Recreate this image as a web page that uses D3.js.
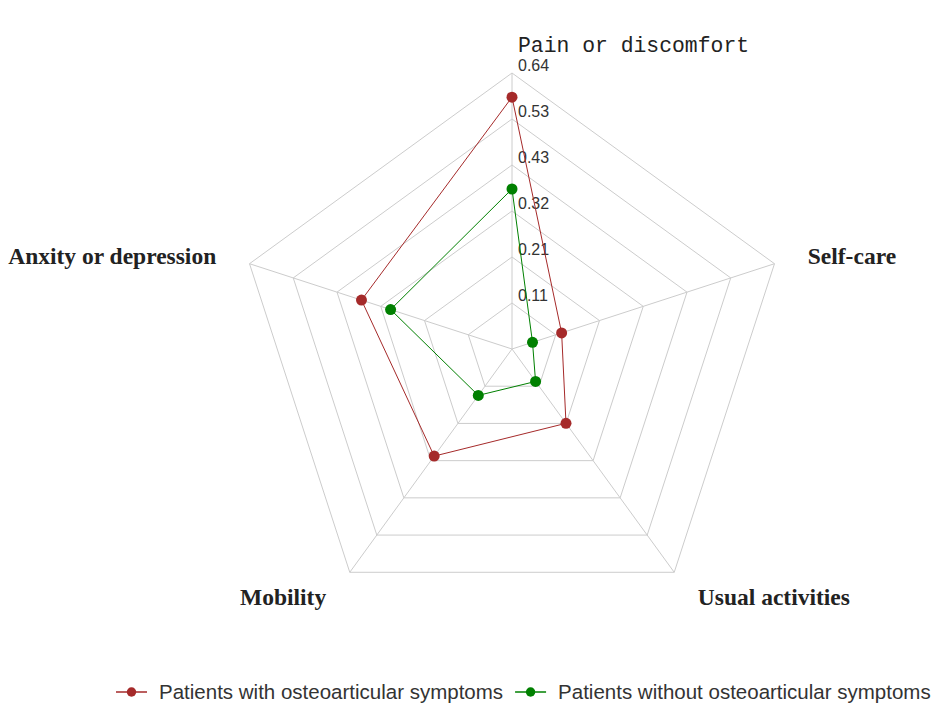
<!DOCTYPE html>
<html>
<head>
<meta charset="utf-8">
<script src="https://cdn.jsdelivr.net/npm/d3@7"></script>
<style>
  body { margin: 0; background: #fff; }
  svg { display: block; }
</style>
</head>
<body>
<svg id="chart" width="950" height="706"></svg>
<script>
// ---------------- data ----------------
var axes = ["Pain or discomfort", "Self-care", "Usual activities", "Mobility", "Anxity or depression"];
var tickLabels = ["0.11", "0.21", "0.32", "0.43", "0.53", "0.64"];
var withSymptoms = [0.584, 0.121, 0.213, 0.307, 0.367];
var withoutSymptoms = [0.371, 0.050, 0.093, 0.133, 0.296];
var seriesNames = ["Patients with osteoarticular symptoms", "Patients without osteoarticular symptoms"];
var seriesColors = ["#a52a2a", "#008000"];
var maxValue = 0.64;

// ---------------- layout ----------------
var svg = d3.select("#chart");
var cx = 512, cy = 349, radius = 276;
var rings = tickLabels.length;

var r = d3.scaleLinear().domain([0, maxValue]).range([0, radius]);
var angle = d3.scaleLinear().domain([0, axes.length]).range([0, 2 * Math.PI]);

function pt(i, v) {
    var a = angle(i);
    return [cx + r(v) * Math.sin(a), cy - r(v) * Math.cos(a)];
}

var g = svg.append("g");

// grid rings
for (var k = 1; k <= rings; k++) {
    var v = maxValue * k / rings;
    var ring = axes.map(function(d, i) { return pt(i, v); });
    g.append("polygon")
        .attr("points", ring.map(function(p) { return p.join(","); }).join(" "))
        .style("fill", "none")
        .style("stroke", "#cccccc")
        .style("stroke-width", 1);
}

// spokes
g.selectAll(".spoke")
    .data(axes)
    .enter().append("line")
    .attr("x1", cx).attr("y1", cy)
    .attr("x2", function(d, i) { return pt(i, maxValue)[0]; })
    .attr("y2", function(d, i) { return pt(i, maxValue)[1]; })
    .style("stroke", "#cccccc")
    .style("stroke-width", 1);

// tick labels along the top axis
g.selectAll(".tick")
    .data(tickLabels)
    .enter().append("text")
    .attr("x", cx + 6)
    .attr("y", function(d, i) { return pt(0, maxValue * (i + 1) / rings)[1] - 2; })
    .style("font-family", "'Liberation Sans', Arial, sans-serif")
    .style("font-size", "16px")
    .style("fill", "#333")
    .text(function(d) { return d; });

// axis names
var labelR = radius + 35;
axes.forEach(function(name, i) {
    var a = angle(i);
    var x = cx + labelR * Math.sin(a);
    var y = cy - labelR * Math.cos(a);
    var t = g.append("text").text(name);
    if (i === 0) {
        t.attr("x", cx + 6).attr("y", 52)
            .style("font-family", "'Liberation Mono', 'Courier New', monospace")
            .style("font-size", "21.4px")
            .style("fill", "#222");
    } else {
        var side = Math.sin(a) > 0 ? 1 : -1;
        var bottom = Math.cos(a) < -0.5;
        t.attr("x", x + (bottom ? 3 * side : 0))
            .attr("y", y + (bottom ? 4.5 : 11))
            .attr("text-anchor", side > 0 ? "start" : "end")
            .style("font-family", "'Liberation Serif', 'Times New Roman', serif")
            .style("font-weight", "bold")
            .style("font-size", "23.5px")
            .style("fill", "#222");
    }
});

// series
var line = d3.line().curve(d3.curveLinearClosed);
[withSymptoms, withoutSymptoms].forEach(function(values, s) {
    var pts = values.map(function(v, i) { return pt(i, v); });
    g.append("path")
        .attr("d", line(pts))
        .style("fill", "none")
        .style("stroke", seriesColors[s])
        .style("stroke-width", 1);
    g.selectAll(".dot" + s)
        .data(pts)
        .enter().append("circle")
        .attr("cx", function(d) { return d[0]; })
        .attr("cy", function(d) { return d[1]; })
        .attr("r", 5.5)
        .style("fill", seriesColors[s]);
});

// legend
var lx = 116, ly = 692;
seriesNames.forEach(function(name, s) {
    var item = svg.append("g").attr("transform", "translate(" + lx + "," + ly + ")");
    item.append("line").attr("x1", 0).attr("x2", 31).attr("y1", 0).attr("y2", 0)
        .style("stroke", seriesColors[s]).style("stroke-width", 1.5);
    item.append("circle").attr("cx", 15.5).attr("cy", 0).attr("r", 4.7)
        .style("fill", seriesColors[s]);
    var txt = item.append("text").attr("x", 43).attr("y", 6.5)
        .style("font-family", "'Liberation Sans', Arial, sans-serif")
        .style("font-size", "20.5px")
        .style("fill", "#333")
        .text(name);
    lx += 43 + txt.node().getComputedTextLength() + 12;
});
</script>
</body>
</html>
